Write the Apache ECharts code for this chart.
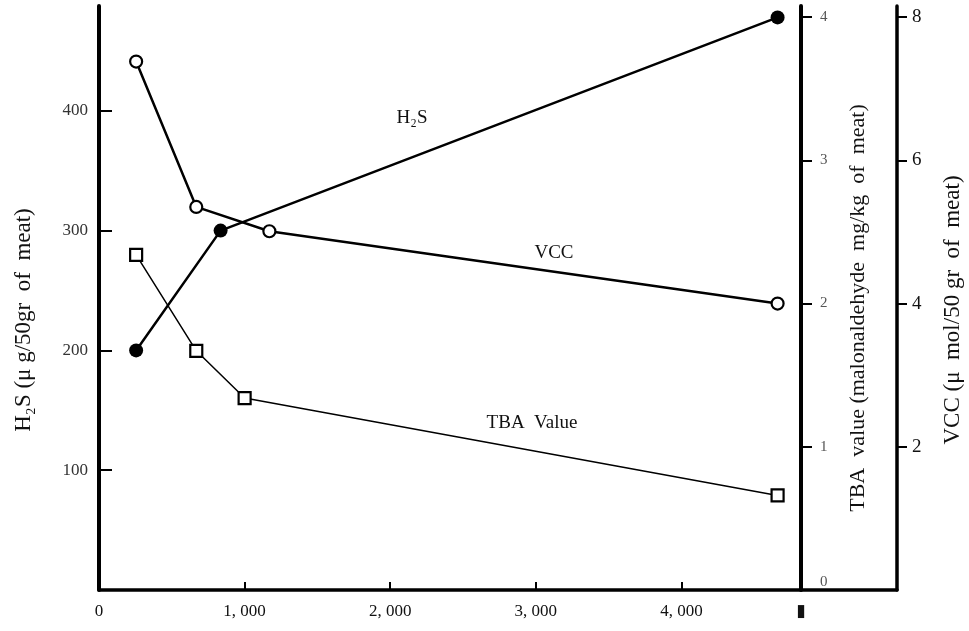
<!DOCTYPE html>
<html>
<head>
<meta charset="utf-8">
<script src="https://cdn.jsdelivr.net/npm/echarts@6/dist/echarts.min.js"></script>
<style>
html,body{margin:0;padding:0;background:#fff;}
#chart{width:969px;height:631px;}
</style>
</head>
<body>
<div id="chart"></div>
<script>
// x positions (dose) and values
const h2sX = [255, 835, 4660];
const h2sVal = [200, 300, 478];
const vccX = [255, 668, 1170, 4660];
const vccVal = [7.38, 5.35, 5.01, 4.0];
const tbaX = [255, 668, 1000, 4660];
const tbaVal = [2.34, 1.67, 1.34, 0.66];

const xLabelValues = [0, 1000, 2000, 3000, 4000, 4820];
const xTickValues = [1000, 2000, 3000, 4000];
const h2sTicks = [100, 200, 300, 400];
const tbaTicks = [0, 1, 2, 3, 4];
const vccTicks = [2, 4, 6, 8];

const pair = (xs, ys) => xs.map((x, i) => [x, ys[i]]);
const serif = '"Liberation Serif", "DejaVu Serif", serif';

const chart = echarts.init(document.getElementById('chart'), null, {renderer: 'canvas'});
chart.setOption({
  backgroundColor: '#fff',
  animation: false,
  textStyle: {fontFamily: serif, color: '#111'},
  grid: {left: 99, right: 72, top: 6, bottom: 41, containLabel: false},
  xAxis: {
    type: 'value', min: 0, max: 5480, interval: 1000,
    splitLine: {show: false},
    axisLine: {lineStyle: {color: '#000', width: 3.5}},
    axisTick: {show: true, inside: true, length: 8, customValues: xTickValues, lineStyle: {color: '#000', width: 2}},
    axisLabel: {
      customValues: xLabelValues, margin: 13, fontSize: 17, color: '#111', fontFamily: serif,
      formatter: v => v === 0 ? '0' : (v === 4820 ? '▮' : (v / 1000) + ', 000')
    }
  },
  yAxis: [
    {
      type: 'value', position: 'left', min: 0, max: 487.5, interval: 100,
      splitLine: {show: false},
      axisLine: {show: true, lineStyle: {color: '#000', width: 4}},
      axisTick: {show: true, inside: true, length: 13, customValues: h2sTicks, lineStyle: {color: '#000', width: 2}},
      axisLabel: {customValues: h2sTicks, margin: 11, fontSize: 17, color: '#333', fontFamily: serif}
    },
    {
      type: 'value', position: 'right', offset: -96, min: 0, max: 4.077, interval: 1,
      splitLine: {show: false},
      axisLine: {show: true, lineStyle: {color: '#000', width: 4}},
      axisTick: {show: true, inside: false, length: 11, customValues: [1, 2, 3, 4], lineStyle: {color: '#000', width: 2}},
      axisLabel: {customValues: tbaTicks, margin: 19, fontSize: 15, color: '#555', fontFamily: serif, verticalAlignMinLabel: 'bottom'}
    },
    {
      type: 'value', position: 'right', offset: 0, min: 0, max: 8.156, interval: 2,
      splitLine: {show: false},
      axisLine: {show: true, lineStyle: {color: '#000', width: 3.5}},
      axisTick: {show: true, inside: false, length: 10, customValues: vccTicks, lineStyle: {color: '#000', width: 2}},
      axisLabel: {customValues: vccTicks, margin: 15, fontSize: 19, color: '#111', fontFamily: serif}
    }
  ],
  series: [
    {
      name: 'H₂S', type: 'line', yAxisIndex: 0, data: pair(h2sX, h2sVal),
      symbol: 'circle', symbolSize: 14,
      lineStyle: {color: '#000', width: 2.5},
      itemStyle: {color: '#000', borderColor: '#000', borderWidth: 0}
    },
    {
      name: 'VCC', type: 'line', yAxisIndex: 2, data: pair(vccX, vccVal),
      symbol: 'circle', symbolSize: 12,
      lineStyle: {color: '#000', width: 2.5},
      itemStyle: {color: '#fff', borderColor: '#000', borderWidth: 2.2}
    },
    {
      name: 'TBA Value', type: 'line', yAxisIndex: 1, data: pair(tbaX, tbaVal),
      symbol: 'rect', symbolSize: 12,
      lineStyle: {color: '#000', width: 1.5},
      itemStyle: {color: '#fff', borderColor: '#000', borderWidth: 2.2}
    }
  ],
  graphic: [
    {type: 'text', x: 412, y: 118, style: {text: 'H₂S', font: '19px ' + serif, fill: '#111', align: 'center', verticalAlign: 'middle'}},
    {type: 'text', x: 554, y: 253, style: {text: 'VCC', font: '19px ' + serif, fill: '#111', align: 'center', verticalAlign: 'middle'}},
    {type: 'text', x: 532, y: 423, style: {text: 'TBA  Value', font: '19px ' + serif, fill: '#111', align: 'center', verticalAlign: 'middle'}},
    {type: 'text', x: 24, y: 320, rotation: Math.PI / 2, style: {text: 'H₂S (μ g/50gr  of  meat)', font: '23px ' + serif, fill: '#111', align: 'center', verticalAlign: 'middle'}},
    {type: 'text', x: 858, y: 308, rotation: Math.PI / 2, style: {text: 'TBA  value (malonaldehyde  mg/kg  of  meat)', font: '22px ' + serif, fill: '#111', align: 'center', verticalAlign: 'middle'}},
    {type: 'text', x: 953, y: 310, rotation: Math.PI / 2, style: {text: 'VCC (μ  mol/50 gr  of  meat)', font: '23px ' + serif, fill: '#111', align: 'center', verticalAlign: 'middle'}}
  ]
});
</script>
</body>
</html>
